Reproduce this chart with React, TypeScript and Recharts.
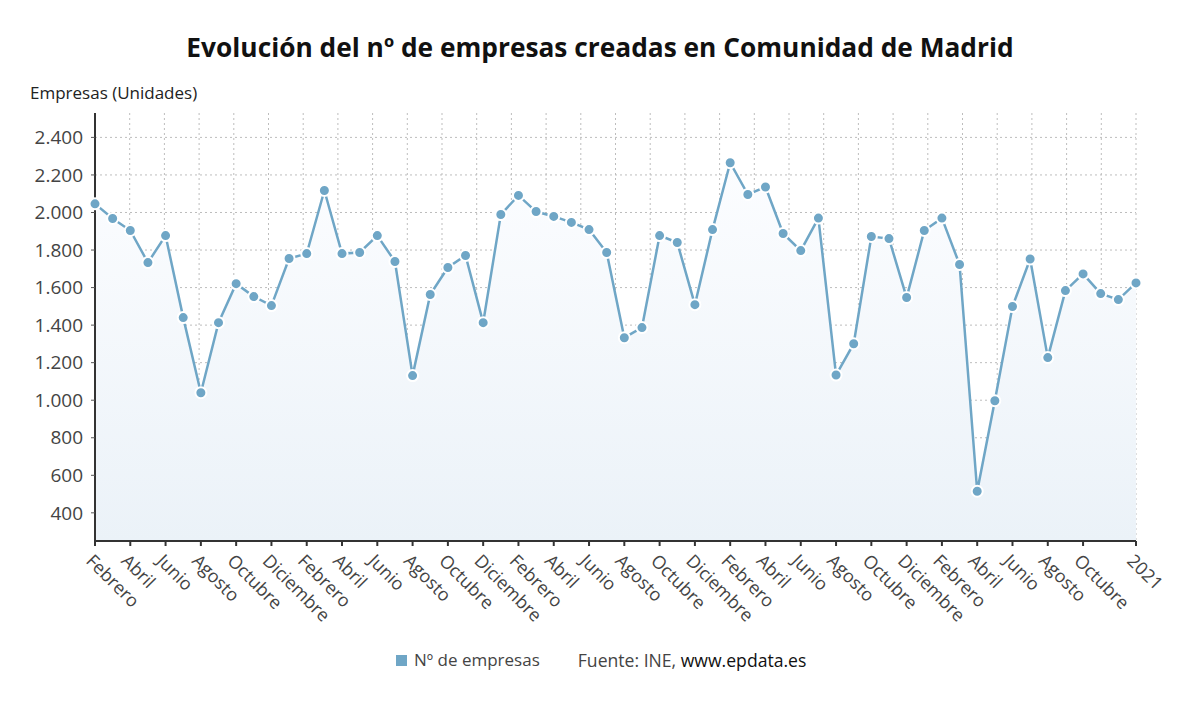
import React from "react";
import {
  ComposedChart,
  Area,
  XAxis,
  YAxis,
  CartesianGrid,
} from "recharts";

const categories = [
  "2016-02", "2016-03", "2016-04", "2016-05", "2016-06", "2016-07", "2016-08", "2016-09", "2016-10", "2016-11", "2016-12",
  "2017-01", "2017-02", "2017-03", "2017-04", "2017-05", "2017-06", "2017-07", "2017-08", "2017-09", "2017-10", "2017-11", "2017-12",
  "2018-01", "2018-02", "2018-03", "2018-04", "2018-05", "2018-06", "2018-07", "2018-08", "2018-09", "2018-10", "2018-11", "2018-12",
  "2019-01", "2019-02", "2019-03", "2019-04", "2019-05", "2019-06", "2019-07", "2019-08", "2019-09", "2019-10", "2019-11", "2019-12",
  "2020-01", "2020-02", "2020-03", "2020-04", "2020-05", "2020-06", "2020-07", "2020-08", "2020-09", "2020-10", "2020-11", "2020-12",
  "2021-01",
];

const empresas = [
  2046, 1968, 1904, 1733, 1877, 1440, 1040, 1413, 1621, 1552, 1504,
  1755, 1781, 2117, 1781, 1787, 1877, 1739, 1131, 1563, 1707, 1771, 1413,
  1989, 2091, 2005, 1979, 1947, 1909, 1787, 1333, 1387, 1877, 1840, 1509,
  1909, 2265, 2096, 2136, 1888, 1797, 1970, 1134, 1301, 1872, 1861, 1547,
  1904, 1970, 1723, 515, 997, 1499, 1752, 1227, 1584, 1673, 1568, 1536,
  1625,
];

const tickCategories = [
  "2016-02", "2016-04", "2016-06", "2016-08", "2016-10", "2016-12",
  "2017-02", "2017-04", "2017-06", "2017-08", "2017-10", "2017-12",
  "2018-02", "2018-04", "2018-06", "2018-08", "2018-10", "2018-12",
  "2019-02", "2019-04", "2019-06", "2019-08", "2019-10", "2019-12",
  "2020-02", "2020-04", "2020-06", "2020-08", "2020-10", "2021-01",
];

const tickLabels = [
  "Febrero", "Abril", "Junio", "Agosto", "Octubre", "Diciembre",
  "Febrero", "Abril", "Junio", "Agosto", "Octubre", "Diciembre",
  "Febrero", "Abril", "Junio", "Agosto", "Octubre", "Diciembre",
  "Febrero", "Abril", "Junio", "Agosto", "Octubre", "Diciembre",
  "Febrero", "Abril", "Junio", "Agosto", "Octubre", "2021",
];

const yTicks = [400, 600, 800, 1000, 1200, 1400, 1600, 1800, 2000, 2200, 2400];
const Y_MIN = 250;
const Y_MAX = 2530;

const data = categories.map((c, i) => ({ mes: c, v: empresas[i] }));

const FONT = "'Open Sans', 'Noto Sans', sans-serif";
const LINE = "#6fa6c6";

const fmt = (n: number) => n.toLocaleString("de-DE");

const XTick = (props: any) => {
  const { x, y, payload } = props;
  const idx = tickCategories.indexOf(payload.value);
  const label = idx >= 0 ? tickLabels[idx] : "";
  return (
    <text
      transform={`translate(${x - 5},${y + 9}) rotate(45)`}
      textAnchor="start"
      dominantBaseline="central"
      fontFamily={FONT}
      fontSize={18}
      fill="#444"
    >
      {label}
    </text>
  );
};

export default function App() {
  return (
    <div
      style={{
        position: "absolute",
        left: 0,
        top: 0,
        width: 1200,
        height: 704,
        background: "#fff",
        fontFamily: FONT,
      }}
    >
      <div
        style={{
          position: "absolute",
          left: 0,
          top: 28,
          width: 1200,
          textAlign: "center",
          fontSize: 26.3,
          fontWeight: 700,
          color: "#111",
          lineHeight: "38px",
        }}
      >
        Evolución del nº de empresas creadas en Comunidad de Madrid
      </div>
      <div
        style={{
          position: "absolute",
          left: 30,
          top: 81,
          fontSize: 17,
          fontWeight: 500,
          color: "#222",
          lineHeight: "24px",
        }}
      >
        Empresas (Unidades)
      </div>
      <ComposedChart
        width={1200}
        height={704}
        data={data}
        margin={{ top: 113, right: 64, bottom: 133, left: 35 }}
      >
        <defs>
          <linearGradient id="areaFill" x1="0" y1="0" x2="0" y2="1">
            <stop offset="0%" stopColor="#fcfdff" />
            <stop offset="100%" stopColor="#ebf2f8" />
          </linearGradient>
        </defs>
        <CartesianGrid
          stroke="#bdbdbd"
          strokeDasharray="2 3"
          horizontalCoordinatesGenerator={({ offset }: any) =>
            yTicks.map((t) => offset.top + (offset.height * (Y_MAX - t)) / (Y_MAX - Y_MIN))
          }
          verticalCoordinatesGenerator={({ offset }: any) => {
            const arr: number[] = [];
            for (let k = 1; k <= 30; k++) arr.push(offset.left + (k * offset.width) / 30);
            return arr;
          }}
        />
        <XAxis
          dataKey="mes"
          type="category"
          ticks={tickCategories}
          interval={0}
          tick={<XTick />}
          tickSize={5}
          height={30}
          axisLine={{ stroke: "#333", strokeWidth: 2 }}
          tickLine={{ stroke: "#333", strokeWidth: 2 }}
          padding={{ left: 0, right: 0 }}
        />
        <YAxis
          width={60}
          domain={[Y_MIN, Y_MAX]}
          ticks={yTicks}
          tickFormatter={fmt}
          tickSize={4}
          tickMargin={8}
          axisLine={{ stroke: "#333", strokeWidth: 2 }}
          tickLine={{ stroke: "#555", strokeWidth: 1 }}
          tick={{ fontFamily: FONT, fontSize: 19, fill: "#444" }}
          allowDataOverflow
        />
        <Area
          type="linear"
          dataKey="v"
          stroke={LINE}
          strokeWidth={2.5}
          fill="url(#areaFill)"
          fillOpacity={1}
          dot={{ r: 5.5, fill: LINE, stroke: "#fff", strokeWidth: 2, fillOpacity: 1 }}
          activeDot={false}
          isAnimationActive={false}
        />
      </ComposedChart>
      <div
        style={{
          position: "absolute",
          left: 396,
          top: 648,
          fontSize: 17,
          color: "#444",
          lineHeight: "24px",
          display: "flex",
          alignItems: "center",
          whiteSpace: "nowrap",
        }}
      >
        <span
          style={{
            display: "inline-block",
            width: 11,
            height: 11,
            background: LINE,
            marginRight: 7,
          }}
        />
        <span>Nº de empresas</span>
        <span style={{ marginLeft: 38, fontSize: 17.6 }}>
          Fuente: INE, <span style={{ color: "#111" }}>www.epdata.es</span>
        </span>
      </div>
    </div>
  );
}
